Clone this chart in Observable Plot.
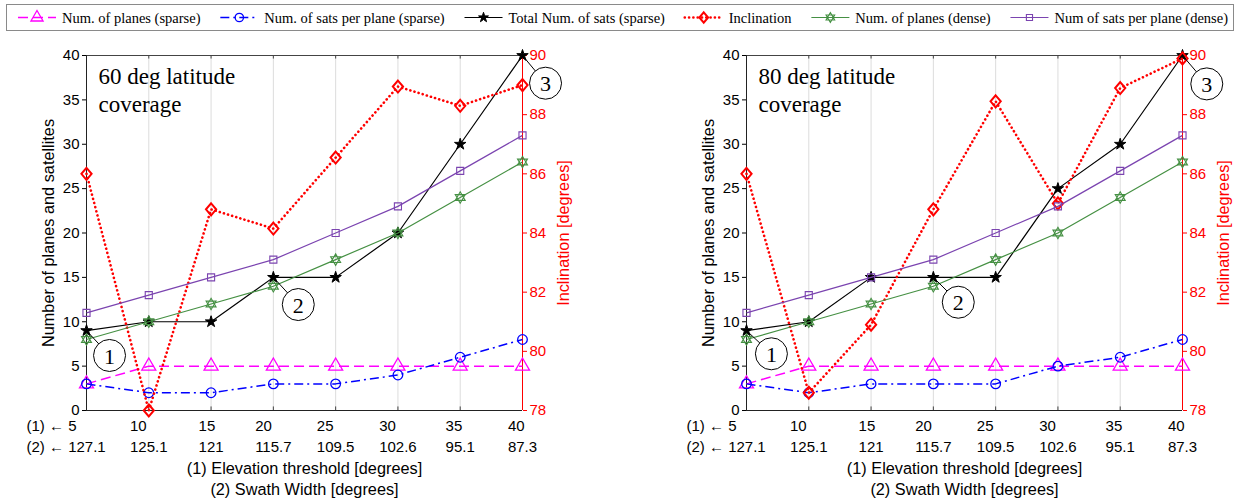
<!DOCTYPE html>
<html><head><meta charset="utf-8">
<script src="https://cdn.jsdelivr.net/npm/d3@7"></script>
<script src="https://cdn.jsdelivr.net/npm/@observablehq/plot@0.6"></script>
<style>
body{margin:0;background:#fff;width:1244px;height:504px;position:relative;overflow:hidden;}
#legend{position:absolute;left:0;top:0;}
#c1{position:absolute;left:0;top:36px;}
#c2{position:absolute;left:660px;top:36px;}
</style></head><body>
<div id="legend"></div><div id="c1"></div><div id="c2"></div>
<script>
// ---------- data ----------
const elevation = [5, 10, 15, 20, 25, 30, 35, 40];
const elevLabels = ["(1) ← 5", "10", "15", "20", "25", "30", "35", "40"];
const swathLabels = ["(2) ← 127.1", "125.1", "121", "115.7", "109.5", "102.6", "95.1", "87.3"];
const countTicks = [0, 5, 10, 15, 20, 25, 30, 35, 40];
const inclTicks = [78, 80, 82, 84, 86, 88, 90];

// 60 deg latitude coverage
const planesSparse60 = [3, 5, 5, 5, 5, 5, 5, 5];
const satsPerPlaneSparse60 = [3, 2, 2, 3, 3, 4, 6, 8];
const totalSparse60 = [9, 10, 10, 15, 15, 20, 30, 40];
const inclination60 = [86, 78, 84.8, 84.15, 86.55, 88.95, 88.3, 89];
const planesDense60 = [8, 10, 12, 14, 17, 20, 24, 28];
const satsPerPlaneDense60 = [11, 13, 15, 17, 20, 23, 27, 31];

// 80 deg latitude coverage
const planesSparse80 = [3, 5, 5, 5, 5, 5, 5, 5];
const satsPerPlaneSparse80 = [3, 2, 3, 3, 3, 5, 6, 8];
const totalSparse80 = [9, 10, 15, 15, 15, 25, 30, 40];
const inclination80 = [86, 78.6, 80.9, 84.8, 88.45, 85, 88.9, 89.9];
const planesDense80 = [8, 10, 12, 14, 17, 20, 24, 28];
const satsPerPlaneDense80 = [11, 13, 15, 17, 20, 23, 27, 31];

const seriesNames = ["Num. of planes (sparse)", "Num. of sats per plane (sparse)", "Total Num. of sats (sparse)",
  "Inclination", "Num. of planes (dense)", "Num of sats per plane (dense)"];
const panelTitles = ["60 deg latitude\ncoverage", "80 deg latitude\ncoverage"];

// callouts: anchor point (x, y) and circle centre (cx, cy), data units
const calloutLabels = ["1", "2", "3"];
const calloutAnchorX = [5, 20, 40];
const calloutAnchorY60 = [9, 15, 40];
const calloutAnchorY80 = [9, 15, 40];
const calloutCX60 = [6.85, 22.0, 41.85];
const calloutCY60 = [6.2, 11.94, 36.88];
const calloutCX80 = [7.0, 22.0, 41.95];
const calloutCY80 = [6.39, 12.2, 36.8];

// ---------- styles ----------
const hexagram = {draw(ctx, size) {
  const R = Math.sqrt(size / Math.PI) * 1.15;
  for (let t = 0; t < 2; t++) {
    for (let i = 0; i < 3; i++) {
      const a = (t ? Math.PI / 2 : -Math.PI / 2) + i * 2 * Math.PI / 3;
      const x = R * Math.cos(a), y = R * Math.sin(a);
      i ? ctx.lineTo(x, y) : ctx.moveTo(x, y);
    }
    ctx.closePath();
  }
}};
const diamond = {draw(ctx, size) {
  const r = Math.sqrt(size / Math.PI), w = r * 0.85;
  ctx.moveTo(0, -r); ctx.lineTo(w, 0); ctx.lineTo(0, r); ctx.lineTo(-w, 0); ctx.closePath();
}};
const styles = [
  {color: "#ff00ff", dash: "10,5", width: 1.5, symbol: d3.symbolTriangle, r: 5.2, fill: "none", sw: 1.3, cap: "butt"},
  {color: "#0000ff", dash: "9,4,2,4", width: 1.5, symbol: d3.symbolCircle, r: 4.8, fill: "none", sw: 1.3, cap: "butt"},
  {color: "#000000", dash: null, width: 1.2, symbol: d3.symbolStar, r: 3.6, fill: "#000", sw: 1, cap: "butt"},
  {color: "#ff0000", dash: "0.1,4.2", width: 2.6, symbol: diamond, r: 6, fill: "none", sw: 2, cap: "round"},
  {color: "#459043", dash: null, width: 1.2, symbol: hexagram, r: 5, fill: "none", sw: 1.1, cap: "butt"},
  {color: "#7b44b0", dash: null, width: 1.2, symbol: d3.symbolSquare, r: 4, fill: "none", sw: 1.1, cap: "butt"}
];

const SANS = "Liberation Sans, Arial, sans-serif";
const SERIF = "Liberation Serif, Times New Roman, serif";
const TICK_FS = 15, LABEL_FS = 16.3;

const inc2y = v => (v - 78) / (90 - 78) * 40;
const y2inc = y => 78 + y / 40 * (90 - 78);

const mctx = document.createElement("canvas").getContext("2d");
mctx.font = TICK_FS + "px " + SANS;
const tw = s => mctx.measureText(s).width;

function chart(series, title, cx, cy, ay) {
  const marks = [];
  marks.push(Plot.gridX(elevation.slice(1, -1), {stroke: "#dcdcdc", strokeOpacity: 1}));
  marks.push(Plot.ruleY([40], {stroke: "#444", strokeWidth: 1}));
  marks.push(Plot.ruleY([0], {stroke: "#222", strokeWidth: 1}));
  marks.push(Plot.ruleX(elevation.slice(1, -1), {y1: 40, y2: 39.6, stroke: "#444"}));
  marks.push(Plot.ruleX(elevation.slice(1, -1), {y1: 0, y2: 0.4, stroke: "#444"}));
  marks.push(Plot.ruleX([5], {stroke: "#222"}));
  marks.push(Plot.ruleX([40], {stroke: "#ff0000"}));
  marks.push(Plot.axisY({anchor: "left", ticks: countTicks, tickSize: 4, tickPadding: 3, label: null, fontSize: TICK_FS}));
  marks.push(Plot.axisY({anchor: "right", ticks: inclTicks.map(inc2y), tickFormat: y => String(Math.round(y2inc(y))),
    tickSize: 4, tickPadding: 3, label: null, color: "#ff0000", fontSize: TICK_FS}));
  series.forEach((vals, k) => {
    const st = styles[k];
    const ys = k === 3 ? vals.map(inc2y) : vals;
    const data = elevation.map((e, i) => ({x: e, y: ys[i]}));
    marks.push(Plot.line(data, {x: "x", y: "y", stroke: st.color, strokeWidth: st.width,
      strokeDasharray: st.dash, strokeLinecap: st.cap}));
    marks.push(Plot.dot(data, {x: "x", y: "y", symbol: () => st.symbol, r: st.r, stroke: st.color,
      fill: st.fill, strokeWidth: st.sw}));
  });
  // callouts
  const cdata = calloutLabels.map((l, i) => ({l, ax: calloutAnchorX[i], ay: ay[i], cx: cx[i], cy: cy[i]}));
  marks.push(Plot.link(cdata, {x1: "ax", y1: "ay", x2: "cx", y2: "cy", stroke: "#000", strokeWidth: 1}));
  marks.push(Plot.dot(cdata, {x: "cx", y: "cy", r: 16, stroke: "#000", fill: "#fff", strokeWidth: 1}));
  marks.push(Plot.text(cdata, {x: "cx", y: "cy", text: "l", fontFamily: SERIF, fontSize: 22, fill: "#000", dy: 1}));
  // panel title
  marks.push(Plot.text([title], {frameAnchor: "top-left", textAnchor: "start", lineAnchor: "top", dx: 12, dy: 9,
    fontFamily: SERIF, fontSize: 23, lineHeight: 1.2, fill: "#000"}));
  // x tick labels (two rows, lines left-aligned inside a centred block)
  elevation.forEach((e, i) => {
    const block = Math.max(tw(elevLabels[i]), tw(swathLabels[i]));
    const dx = i === 0 ? -60 : -block / 2;
    marks.push(Plot.text([e], {x: d => d, text: () => elevLabels[i], frameAnchor: "bottom", textAnchor: "start",
      lineAnchor: "middle", dx, dy: 16, fontSize: TICK_FS, fill: "#000"}));
    marks.push(Plot.text([e], {x: d => d, text: () => swathLabels[i], frameAnchor: "bottom", textAnchor: "start",
      lineAnchor: "middle", dx, dy: 36.5, fontSize: TICK_FS, fill: "#000"}));
  });
  marks.push(Plot.text(["(1) Elevation threshold [degrees]"], {frameAnchor: "bottom", textAnchor: "middle",
    lineAnchor: "middle", dy: 58.5, fontSize: LABEL_FS, fill: "#000"}));
  marks.push(Plot.text(["(2) Swath Width [degrees]"], {frameAnchor: "bottom", textAnchor: "middle",
    lineAnchor: "middle", dy: 79.5, fontSize: LABEL_FS, fill: "#000"}));
  marks.push(Plot.text(["Number of planes and satellites"], {frameAnchor: "left", textAnchor: "middle",
    lineAnchor: "middle", rotate: -90, dx: -38, fontSize: LABEL_FS, fill: "#000"}));
  marks.push(Plot.text(["Inclination [degrees]"], {frameAnchor: "right", textAnchor: "middle",
    lineAnchor: "middle", rotate: -90, dx: 41, fontSize: LABEL_FS, fill: "#ff0000"}));

  return Plot.plot({
    width: 584, height: 468,
    marginLeft: 86, marginRight: 62, marginTop: 19, marginBottom: 94,
    x: {domain: [5, 40], axis: null},
    y: {domain: [0, 40], axis: null},
    style: {fontFamily: SANS, fontSize: TICK_FS + "px", color: "#000", background: "#fff", overflow: "visible"},
    marks
  });
}

document.getElementById("c1").append(chart(
  [planesSparse60, satsPerPlaneSparse60, totalSparse60, inclination60, planesDense60, satsPerPlaneDense60],
  panelTitles[0], calloutCX60, calloutCY60, calloutAnchorY60));
document.getElementById("c2").append(chart(
  [planesSparse80, satsPerPlaneSparse80, totalSparse80, inclination80, planesDense80, satsPerPlaneDense80],
  panelTitles[1], calloutCX80, calloutCY80, calloutAnchorY80));

// ---------- legend ----------
(function () {
  const svg = d3.select("#legend").append("svg").attr("width", 1244).attr("height", 36)
    .style("font-family", SERIF).style("font-size", "14.5px");
  svg.append("rect").attr("x", 6.5).attr("y", 4.5).attr("width", 1227).attr("height", 26)
    .attr("fill", "#fff").attr("stroke", "#8a8a8a");
  const lctx = document.createElement("canvas").getContext("2d");
  lctx.font = "14.5px " + SERIF;
  const sampleLen = 38, gapIn = 6;
  const widths = seriesNames.map(s => lctx.measureText(s).width);
  const total = widths.reduce((a, b) => a + b, 0) + seriesNames.length * (sampleLen + gapIn);
  const startX = 18, endX = 1228;
  const gap = (endX - startX - total) / (seriesNames.length - 1);
  let x = startX;
  const cy = 17.5;
  seriesNames.forEach((name, k) => {
    const st = styles[k];
    svg.append("line").attr("x1", x).attr("x2", x + sampleLen).attr("y1", cy).attr("y2", cy)
      .attr("stroke", st.color).attr("stroke-width", st.width).attr("stroke-dasharray", st.dash)
      .attr("stroke-linecap", st.cap);
    svg.append("path").attr("transform", `translate(${x + sampleLen / 2},${cy})`)
      .attr("d", d3.symbol(st.symbol, Math.PI * st.r * st.r * 0.75)())
      .attr("stroke", st.color).attr("fill", st.fill).attr("stroke-width", st.sw);
    svg.append("text").attr("x", x + sampleLen + gapIn).attr("y", cy).attr("dy", "0.35em").text(name).attr("fill", "#000");
    x += sampleLen + gapIn + widths[k] + gap;
  });
})();
</script>
</body></html>
